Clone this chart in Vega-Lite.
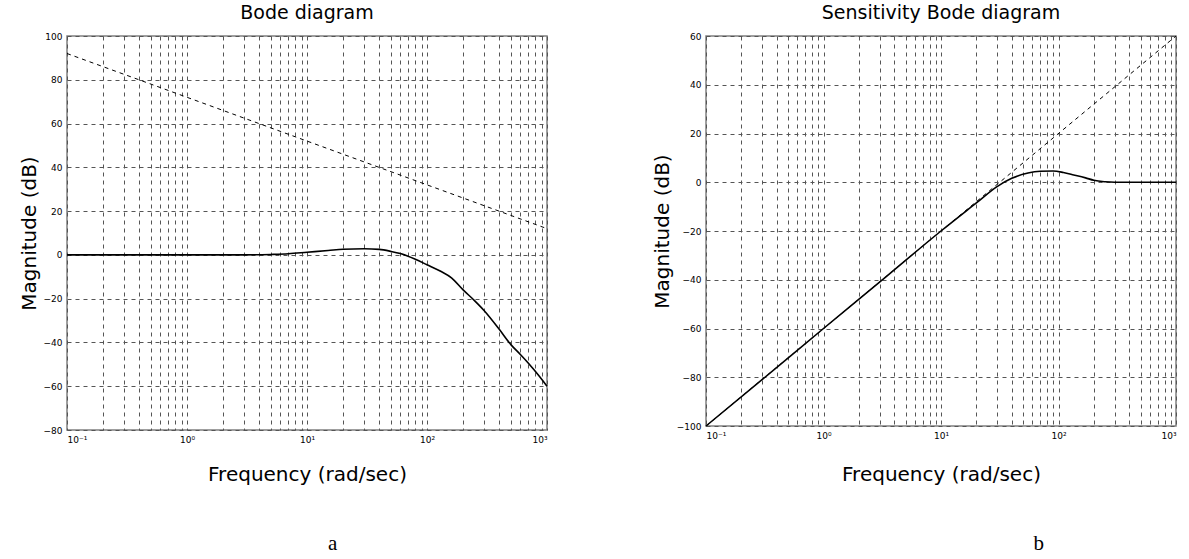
{
  "$schema": "https://vega.github.io/schema/vega-lite/v6.json",
  "background": "white",
  "padding": {"left": 18, "top": 3, "right": 5, "bottom": 0},
  "datasets": {
    "aSolid": [
      {"f": 0.1, "mag": 0}, {"f": 1, "mag": 0}, {"f": 3, "mag": 0}, {"f": 5, "mag": 0.2},
      {"f": 7, "mag": 0.5}, {"f": 10, "mag": 1.2}, {"f": 15, "mag": 2}, {"f": 20, "mag": 2.6},
      {"f": 30, "mag": 2.8}, {"f": 40, "mag": 2.5}, {"f": 50, "mag": 1.6}, {"f": 60, "mag": 0.6},
      {"f": 80, "mag": -2}, {"f": 100, "mag": -4.5}, {"f": 130, "mag": -7.5}, {"f": 160, "mag": -10.5},
      {"f": 200, "mag": -16}, {"f": 250, "mag": -21}, {"f": 300, "mag": -25.5}, {"f": 400, "mag": -34},
      {"f": 500, "mag": -41}, {"f": 600, "mag": -45.5}, {"f": 700, "mag": -49.5}, {"f": 850, "mag": -55}, {"f": 1000, "mag": -60}
    ],
    "aDash": [{"f": 0.1, "mag": 92}, {"f": 1000, "mag": 12}],
    "bSolid": [
      {"f": 0.1, "mag": -100}, {"f": 0.3, "mag": -81}, {"f": 1, "mag": -60}, {"f": 3, "mag": -41},
      {"f": 10, "mag": -20}, {"f": 20, "mag": -8.5}, {"f": 30, "mag": -1.8}, {"f": 40, "mag": 1.6},
      {"f": 55, "mag": 3.8}, {"f": 70, "mag": 4.5}, {"f": 90, "mag": 4.6}, {"f": 110, "mag": 4},
      {"f": 135, "mag": 3}, {"f": 170, "mag": 1.8}, {"f": 200, "mag": 0.8}, {"f": 250, "mag": 0.2},
      {"f": 300, "mag": 0}, {"f": 1000, "mag": 0}
    ],
    "bDash": [{"f": 0.1, "mag": -100}, {"f": 1000, "mag": 60}]
  },
  "config": {
    "view": {"stroke": "#808080", "strokeWidth": 1.5},
    "font": "DejaVu Sans",
    "axis": {
      "grid": true, "gridColor": "#555555", "gridDash": [4, 4], "gridOpacity": 1, "gridWidth": 1,
      "domain": false, "ticks": false, "labelPadding": 5,
      "labelFont": "DejaVu Sans", "labelFontSize": 9, "labelColor": "#000000",
      "titleFont": "DejaVu Sans", "titleFontSize": 20, "titleFontWeight": "normal", "titleColor": "#000000"
    },
    "title": {"font": "DejaVu Sans", "fontSize": 19, "fontWeight": "normal", "color": "#000000"}
  },
  "spacing": 100,
  "hconcat": [
    {
      "title": {"text": "a", "orient": "bottom", "anchor": "middle", "font": "Liberation Serif", "fontSize": 21, "fontWeight": "normal", "offset": 48, "dx": 48},
      "vconcat": [
        {
          "title": {"text": "Bode diagram", "offset": 9},
          "width": 480,
          "height": 394,
          "encoding": {
            "x": {
              "field": "f", "type": "quantitative",
              "scale": {"type": "log", "domain": [0.1, 1000], "nice": false},
              "axis": {
                "title": "Frequency  (rad/sec)", "titlePadding": 20, "labelOverlap": false,
                "values": [0.1,0.2,0.3,0.4,0.5,0.6,0.7,0.8,0.9,1,2,3,4,5,6,7,8,9,10,20,30,40,50,60,70,80,90,100,200,300,400,500,600,700,800,900,1000],
                "labelExpr": "round(log(datum.value)/LN10*1000) % 1000 != 0 ? '' : (round(log(datum.value)/LN10) == -1 ? '10⁻¹' : round(log(datum.value)/LN10) == 0 ? '10⁰' : round(log(datum.value)/LN10) == 1 ? '10¹' : round(log(datum.value)/LN10) == 2 ? '10²' : '10³')"
              }
            },
            "y": {
              "field": "mag", "type": "quantitative",
              "scale": {"domain": [-80, 100], "nice": false},
              "axis": {"title": "Magnitude (dB)", "titlePadding": 4, "values": [-80,-60,-40,-20,0,20,40,60,80,100]}
            }
          },
          "layer": [
            {"data": {"name": "aDash"}, "mark": {"type": "line", "color": "black", "strokeWidth": 1, "strokeDash": [4, 4]}},
            {"data": {"name": "aSolid"}, "mark": {"type": "line", "color": "black", "strokeWidth": 1.6, "interpolate": "monotone"}}
          ]
        }
      ]
    },
    {
      "title": {"text": "b", "orient": "bottom", "anchor": "middle", "font": "Liberation Serif", "fontSize": 21, "fontWeight": "normal", "offset": 48, "dx": 123},
      "vconcat": [
        {
          "title": {"text": "Sensitivity Bode diagram", "offset": 9},
          "width": 470,
          "height": 390,
          "encoding": {
            "x": {
              "field": "f", "type": "quantitative",
              "scale": {"type": "log", "domain": [0.1, 1000], "nice": false},
              "axis": {
                "title": "Frequency  (rad/sec)", "titlePadding": 24, "labelOverlap": false,
                "values": [0.1,0.2,0.3,0.4,0.5,0.6,0.7,0.8,0.9,1,2,3,4,5,6,7,8,9,10,20,30,40,50,60,70,80,90,100,200,300,400,500,600,700,800,900,1000],
                "labelExpr": "round(log(datum.value)/LN10*1000) % 1000 != 0 ? '' : (round(log(datum.value)/LN10) == -1 ? '10⁻¹' : round(log(datum.value)/LN10) == 0 ? '10⁰' : round(log(datum.value)/LN10) == 1 ? '10¹' : round(log(datum.value)/LN10) == 2 ? '10²' : '10³')"
              }
            },
            "y": {
              "field": "mag", "type": "quantitative",
              "scale": {"domain": [-100, 60], "nice": false},
              "axis": {"title": "Magnitude (dB)", "titlePadding": 4, "values": [-100,-80,-60,-40,-20,0,20,40,60]}
            }
          },
          "layer": [
            {"data": {"name": "bDash"}, "mark": {"type": "line", "color": "black", "strokeWidth": 1, "strokeDash": [4, 4]}},
            {"data": {"name": "bSolid"}, "mark": {"type": "line", "color": "black", "strokeWidth": 1.6, "interpolate": "monotone"}}
          ]
        }
      ]
    }
  ]
}
